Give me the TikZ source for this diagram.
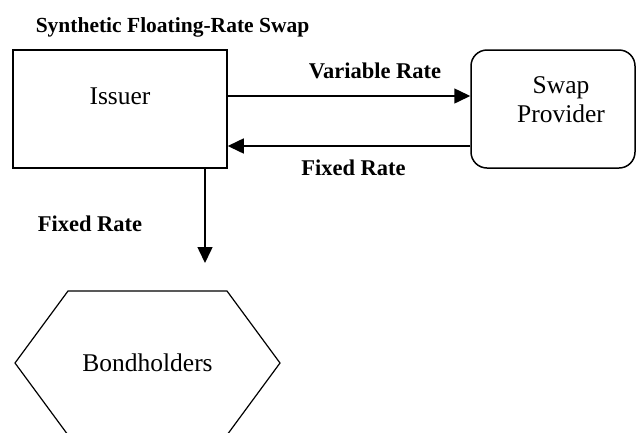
\documentclass[tikz,border=0pt]{standalone}
\usepackage{fontspec}
\setmainfont{Liberation Serif}
\usetikzlibrary{arrows.meta}

\def\bondhex{(15,363) -- (68,291) -- (227,291) -- (280,363) -- (227,435) -- (68,435) -- cycle}

\begin{document}
\begin{tikzpicture}[x=1pt,y=-1pt,line width=1.5pt,
		flow/.style={-{Triangle[length=16pt,width=15pt]}},
		party/.style={font=\fontsize{25.5}{29}\selectfont,align=center,inner sep=0pt},
		rate/.style={font=\fontsize{22.5}{26}\selectfont\bfseries,inner sep=0pt}]
			\useasboundingbox (0,0) rectangle (636,432);

			% title
			\node[rate,font=\fontsize{21.5}{26}\selectfont\bfseries,anchor=base west] (title) at (35,32) {Synthetic Floating-Rate Swap};

			% parties
			\node[draw,minimum width=214pt,minimum height=118pt,inner sep=0pt] (issuer) at (120,109) {};
			\node[party] (issuertext) at (120,96) {Issuer};
			\node[draw,rounded corners=16pt,minimum width=164pt,minimum height=118pt,inner sep=0pt] (provider) at (553,109) {};
			\node[party] (providertext) at (561,100) {Swap\\Provider};
			\draw[line width=1.2pt] \bondhex;
			\node[party] (bondholders) at (147.5,363) {Bondholders};

			% swap legs
			\draw[flow] (issuer.east |- issuertext) -- (provider.west |- issuertext);
			\node[rate,anchor=base] (variable) at (375,78) {Variable Rate};
			\draw[flow] ([yshift=-37pt]provider.west) -- ([yshift=-37pt]issuer.east);
			\node[rate,anchor=base] (fixedswap) at (353.5,175) {Fixed Rate};

			% bond coupon
			\coordinate (bondtop) at (205,263);
			\draw[flow] (issuer.south -| bondtop) -- (bondtop);
			\node[rate,anchor=base] (fixedbond) at (90,231) {Fixed Rate};
		\end{tikzpicture}
\end{document}
